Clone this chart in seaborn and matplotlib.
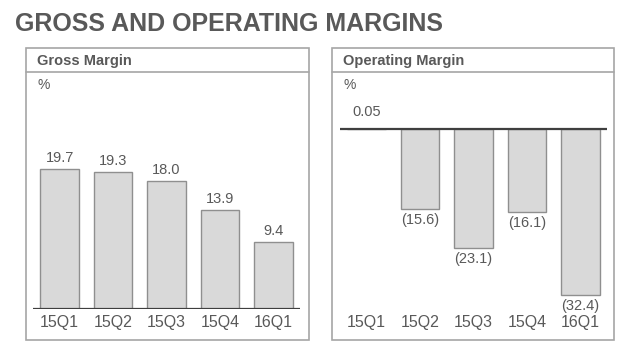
import matplotlib
matplotlib.use("Agg")
import matplotlib.pyplot as plt
from matplotlib.patches import Rectangle
from matplotlib.lines import Line2D
import seaborn as sns

# data
quarters = ["15Q1", "15Q2", "15Q3", "15Q4", "16Q1"]
gross_margin = [19.7, 19.3, 18.0, 13.9, 9.4]
operating_margin = [0.05, -15.6, -23.1, -16.1, -32.4]

TEXT = "#595959"
BAR = "#d9d9d9"
EDGE = "#8f8f8f"
BOX = "#a6a6a6"

sns.set_theme(style="white")
plt.rcParams['font.family'] = ['Liberation Sans', 'DejaVu Sans']

W, H = 640, 359
fig = plt.figure(figsize=(W / 100, H / 100), dpi=100)


def px(x0, y0, x1, y1):
    # pixel box (top-left origin) -> figure rect
    return [x0 / W, 1 - y1 / H, (x1 - x0) / W, (y1 - y0) / H]


def fmt(v):
    return "({:.1f})".format(-v) if v < 0 else ("{:.2f}".format(v) if abs(v) < 1 else "{:.1f}".format(v))


fig.text(15 / W, 1 - 24 / H, "GROSS AND OPERATING MARGINS", fontsize=18, fontweight="bold",
         color=TEXT, va="center", ha="left")

# panel frames and headers
for (x0, x1, title) in [(26, 309, "Gross Margin"), (332, 614, "Operating Margin")]:
    fig.add_artist(Rectangle((x0 / W, 1 - 340 / H), (x1 - x0) / W, (340 - 47.5) / H,
                             transform=fig.transFigure, fill=False, edgecolor=BOX, lw=1.2))
    fig.add_artist(Line2D([x0 / W, x1 / W], [1 - 72 / H, 1 - 72 / H], transform=fig.transFigure,
                          color=BOX, lw=1.2))
    fig.text((x0 + 11) / W, 1 - 61 / H, title, fontsize=10.5, fontweight="bold", color=TEXT,
             va="center", ha="left")
    fig.text((x0 + 11) / W, 1 - 85 / H, "%", fontsize=10, color=TEXT, va="center", ha="left")


def style_axis(ax):
    for s in ax.spines.values():
        s.set_visible(False)
    ax.set_yticks([])
    ax.set_xlabel("")
    ax.set_ylabel("")
    ax.tick_params(axis="x", length=0, pad=4, labelsize=11.5, labelcolor=TEXT)
    ax.set_xlim(-0.5, 4.5)
    ax.patch.set_alpha(0)


# gross margin
ax1 = fig.add_axes(px(33, 90, 300, 309))
sns.barplot(x=quarters, y=gross_margin, color=BAR, saturation=1, edgecolor=EDGE,
            linewidth=1, width=0.72, ax=ax1)
style_axis(ax1)
ax1.set_ylim(0, (309 - 90) / 7.1)
ax1.axhline(0, color="#3f3f3f", lw=1.6, zorder=5)
for i, v in enumerate(gross_margin):
    ax1.annotate(fmt(v), (i, v), xytext=(0, 3), textcoords="offset points",
                 ha="center", va="bottom", fontsize=10.5, color=TEXT)

# operating margin
ax2 = fig.add_axes(px(340, 100, 607, 309))
sns.barplot(x=quarters, y=operating_margin, color=BAR, saturation=1, edgecolor=EDGE,
            linewidth=1, width=0.72, ax=ax2)
style_axis(ax2)
ax2.set_ylim(-(309 - 129.3) / 5.12, (129.3 - 100) / 5.12)
ax2.axhline(0, color="#3f3f3f", lw=1.6, zorder=5)
for i, v in enumerate(operating_margin):
    if v >= 0:
        ax2.annotate(fmt(v), (i, v), xytext=(0, 7), textcoords="offset points",
                     ha="center", va="bottom", fontsize=10.5, color=TEXT)
    else:
        ax2.annotate(fmt(v), (i, v), xytext=(0, -3), textcoords="offset points",
                     ha="center", va="top", fontsize=10.5, color=TEXT)

fig.savefig("out.png", dpi=100)
